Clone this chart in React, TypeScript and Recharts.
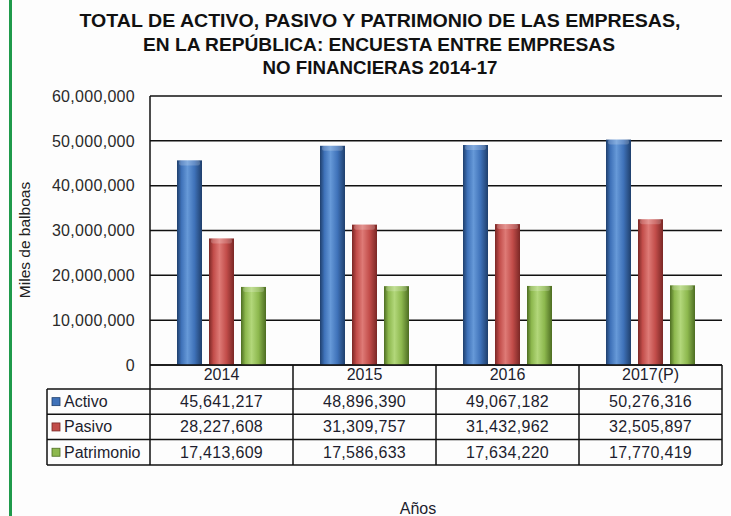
import { BarChart, Bar, XAxis, YAxis, CartesianGrid } from 'recharts'

const YEARS = ['2014', '2015', '2016', '2017(P)']
const ACTIVO = [45641217, 48896390, 49067182, 50276316]
const PASIVO = [28227608, 31309757, 31432962, 32505897]
const PATRIMONIO = [17413609, 17586633, 17634220, 17770419]
const Y_TICKS = [0, 10000000, 20000000, 30000000, 40000000, 50000000, 60000000]

const SERIES = [
  { key: 'activo', label: 'Activo', values: ACTIVO, base: '#3f72b9', dark: '#1f3f6c', light: '#6699d8' },
  { key: 'pasivo', label: 'Pasivo', values: PASIVO, base: '#c24d4a', dark: '#7a2725', light: '#de7a76' },
  { key: 'patrimonio', label: 'Patrimonio', values: PATRIMONIO, base: '#8db84e', dark: '#4d6d22', light: '#b2d77a' },
]

const data = YEARS.map((year, i) => ({
  year,
  activo: ACTIVO[i],
  pasivo: PASIVO[i],
  patrimonio: PATRIMONIO[i],
}))

const W = 731, H = 516
const Y_W = 150
const X_H = 24
const MARGIN = { top: 96, right: 9, left: 0, bottom: H - 365 - X_H }
const PLOT_L = MARGIN.left + Y_W
const PLOT_R = W - MARGIN.right
const PLOT_B = H - MARGIN.bottom - X_H
const COL_W = (PLOT_R - PLOT_L) / YEARS.length
const TABLE_L = 47
const ROW_TOP = 389
const ROW_H = 25.3
const FONT = '"Liberation Sans", Arial, sans-serif'
const TXT = '#1d1d2e'
const fmt = (v: number) => v.toLocaleString('en-US')

function CylBar(props: any) {
  const { x, y, width, height, gid } = props
  if (!height || height <= 0) return null
  return (
    <g>
      <rect x={x} y={y} width={width} height={height} fill={`url(#${gid})`} />
      <rect x={x + 2} y={y} width={width - 4} height={Math.min(5, height)} fill="#ffffff" opacity={0.2} rx={2} />
    </g>
  )
}

export default function App() {
  return (
    <div style={{ position: 'absolute', left: 0, top: 0, width: W, height: H, background: '#fdfdfd', fontFamily: FONT, overflow: 'hidden' }}>
      <BarChart width={W} height={H} data={data} margin={MARGIN} barSize={25} barGap={7}>
        <defs>
          {SERIES.map(s => (
            <linearGradient key={s.key} id={`g-${s.key}`} x1="0" y1="0" x2="1" y2="0">
              <stop offset="0%" stopColor={s.dark} />
              <stop offset="18%" stopColor={s.base} />
              <stop offset="42%" stopColor={s.light} />
              <stop offset="70%" stopColor={s.base} />
              <stop offset="100%" stopColor={s.dark} />
            </linearGradient>
          ))}
        </defs>
        <CartesianGrid vertical={false} stroke="#111" strokeWidth={1.5} />
        <XAxis dataKey="year" height={X_H} axisLine={false} tickLine={false} tickSize={0} tickMargin={4}
          tick={{ fill: TXT, fontSize: 16, fontFamily: FONT }} />
        <YAxis width={Y_W} domain={[0, 60000000]} ticks={Y_TICKS} tickFormatter={fmt} interval={0}
          axisLine={{ stroke: '#111', strokeWidth: 1.5 }} tickLine={false} tickSize={0} tickMargin={15}
          tick={{ fill: '#2a2a2a', fontSize: 16, fontFamily: FONT, letterSpacing: 0.3 }} />
        {SERIES.map(s => (
          <Bar key={s.key} dataKey={s.key} name={s.label} isAnimationActive={false}
            shape={(p: any) => <CylBar {...p} gid={`g-${s.key}`} />} />
        ))}
      </BarChart>

      <svg width={W} height={H} style={{ position: 'absolute', left: 0, top: 0, pointerEvents: 'none' }}>
        <rect x={9} y={0} width={3} height={H} fill="#1f9a4b" />
        <g fontFamily={FONT} fontWeight="bold" fontSize={18} fill="#111" textAnchor="middle">
          <text x={380} y={27} textLength={601} lengthAdjust="spacingAndGlyphs">TOTAL DE ACTIVO, PASIVO Y PATRIMONIO DE LAS EMPRESAS,</text>
          <text x={379} y={51} textLength={472} lengthAdjust="spacingAndGlyphs">EN LA REPÚBLICA: ENCUESTA ENTRE EMPRESAS</text>
          <text x={380} y={74} textLength={235} lengthAdjust="spacingAndGlyphs">NO FINANCIERAS 2014-17</text>
        </g>
        <text transform="translate(30,240) rotate(-90)" textAnchor="middle" fontFamily={FONT} fontSize={15.5}
          fill="#222">Miles de balboas</text>
        <text x={418} y={514} textAnchor="middle" fontFamily={FONT} fontSize={16} fill={TXT}>Años</text>

        {/* tabla de datos */}
        <g stroke="#111" strokeWidth={1.5}>
          <line x1={PLOT_L} y1={PLOT_B} x2={PLOT_R} y2={PLOT_B} />
          {[0, 1, 2, 3].map(r => (
            <line key={r} x1={TABLE_L} y1={ROW_TOP + r * ROW_H} x2={PLOT_R} y2={ROW_TOP + r * ROW_H} />
          ))}
          <line x1={TABLE_L} y1={ROW_TOP} x2={TABLE_L} y2={ROW_TOP + 3 * ROW_H} />
          {YEARS.map((_, i) => (
            <line key={i} x1={PLOT_L + (i + 1) * COL_W} y1={PLOT_B} x2={PLOT_L + (i + 1) * COL_W} y2={ROW_TOP + 3 * ROW_H} />
          ))}
          <line x1={PLOT_L} y1={PLOT_B} x2={PLOT_L} y2={ROW_TOP + 3 * ROW_H} />
        </g>
        {SERIES.map((s, r) => {
          const cy = ROW_TOP + r * ROW_H + ROW_H / 2
          return (
            <g key={s.key}>
              <rect x={52} y={cy - 4} width={8} height={8} fill={s.base} stroke={s.dark} strokeWidth={0.8} />
              <text x={64} y={cy + 5.5} fontFamily={FONT} fontSize={16} fill={TXT}>{s.label}</text>
              {s.values.map((v, i) => (
                <text key={i} x={PLOT_L + (i + 0.5) * COL_W} y={cy + 5.5} textAnchor="middle" fontFamily={FONT}
                  fontSize={16} letterSpacing={0.3} fill={TXT}>{fmt(v)}</text>
              ))}
            </g>
          )
        })}
      </svg>
    </div>
  )
}
